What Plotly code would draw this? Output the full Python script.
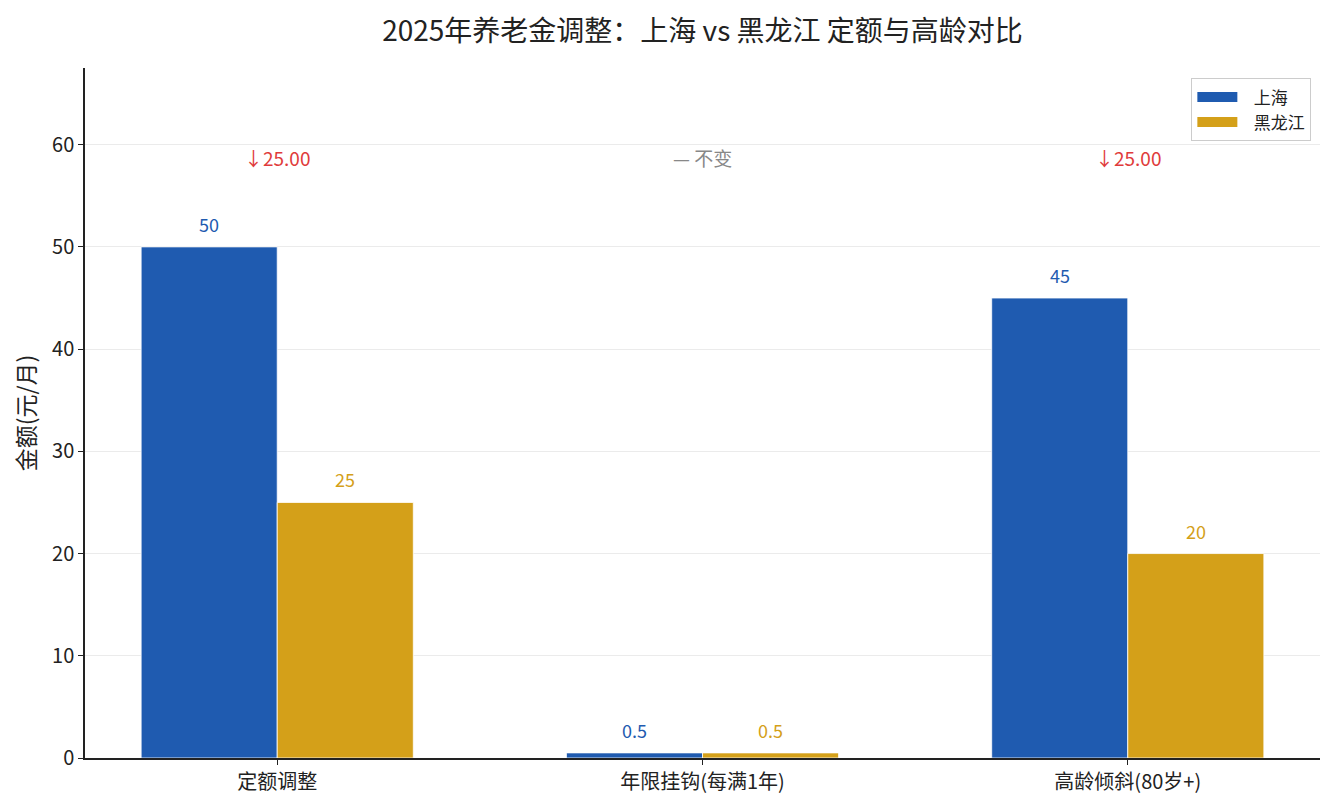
import plotly.graph_objects as go

# 数据
categories = ['定额调整', '年限挂钩(每满1年)', '高龄倾斜(80岁+)']
shanghai = [50, 0.5, 45]
heilongjiang = [25, 0.5, 20]
diff_labels = ['↓25.00', '— 不变', '↓25.00']
diff_colors = ['#e03b3b', '#888888', '#e03b3b']

blue = '#1f5bb0'
gold = '#d4a019'
font = 'Noto Sans CJK SC'

fig = go.Figure()
fig.add_trace(go.Bar(x=categories, y=shanghai, name='上海', showlegend=False,
                     legendgroup='sh',
                     marker=dict(color=blue, line=dict(color='white', width=0.8))))
fig.add_trace(go.Bar(x=categories, y=heilongjiang, name='黑龙江', showlegend=False,
                     legendgroup='hlj',
                     marker=dict(color=gold, line=dict(color='white', width=0.8))))

# 图例用矩形色块
nb = '\u00a0\u00a0\u00a0'
fig.add_trace(go.Scatter(x=[None], y=[None], mode='lines', name=nb + '上海', legendgroup='sh',
                         line=dict(color=blue, width=12)))
fig.add_trace(go.Scatter(x=[None], y=[None], mode='lines', name=nb + '黑龙江', legendgroup='hlj',
                         line=dict(color=gold, width=12)))

# 柱顶数值
for i, c in enumerate(categories):
    for vals, color, dx in [(shanghai, blue, -0.16), (heilongjiang, gold, 0.16)]:
        v = vals[i]
        fig.add_annotation(x=i + dx, y=v, text=f'{v:g}', showarrow=False,
                           yshift=23, font=dict(color=color, size=18, family=font),
                           xref='x', yref='y')

# 差值标注
top = max(shanghai + heilongjiang)
for i, c in enumerate(categories):
    fig.add_annotation(x=i, y=top * 1.175, text=diff_labels[i], showarrow=False,
                       font=dict(color=diff_colors[i], size=19, family=font))

fig.update_layout(
    title=dict(text='2025年养老金调整：上海 vs 黑龙江 定额与高龄对比',
               xref='paper', x=0.5, y=0.971,
               xanchor='center', yanchor='middle',
               font=dict(size=28, color='#222222', family=font)),
    barmode='group', bargap=0.36, bargroupgap=0,
    width=1335, height=810,
    margin=dict(l=77, r=23, t=60, b=60),
    plot_bgcolor='white', paper_bgcolor='white',
    font=dict(family=font, size=18, color='#222222'),
    legend=dict(x=0.993, y=0.985, xanchor='right', yanchor='top',
                bordercolor='#cccccc', borderwidth=1, bgcolor='white',
                font=dict(size=17), itemwidth=40, tracegroupgap=0),
    showlegend=True,
)
fig.update_xaxes(range=[-0.452, 2.452], showline=True, linecolor='#222222', linewidth=1.5,
                 ticks='outside', ticklen=5, tickcolor='#222222', showgrid=False,
                 tickfont=dict(size=20))
fig.update_yaxes(range=[0, 67.5], title=dict(text='金额(元/月)', font=dict(size=23)),
                 showline=True, linecolor='#222222', linewidth=1.5,
                 ticks='outside', ticklen=5, tickcolor='#222222',
                 showgrid=True, gridcolor='#ebebeb', gridwidth=1,
                 dtick=10, tickfont=dict(size=20), zeroline=False)

fig.write_html('out.html')
